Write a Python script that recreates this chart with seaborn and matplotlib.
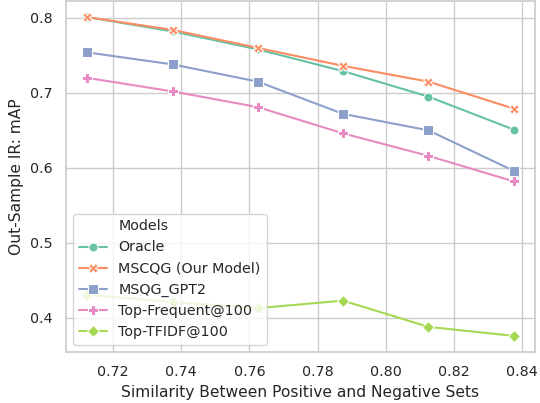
import matplotlib
matplotlib.use("Agg")
import matplotlib.pyplot as plt
import seaborn as sns
import pandas as pd
from matplotlib.lines import Line2D

similarity = [0.7125, 0.7375, 0.7625, 0.7875, 0.8125, 0.8375]
oracle = [0.801, 0.782, 0.758, 0.729, 0.695, 0.651]
mscqg = [0.801, 0.784, 0.760, 0.736, 0.715, 0.679]
msqg_gpt2 = [0.754, 0.738, 0.715, 0.672, 0.650, 0.596]
top_frequent = [0.720, 0.702, 0.681, 0.646, 0.616, 0.582]
top_tfidf = [0.431, 0.421, 0.413, 0.423, 0.388, 0.376]
models = ["Oracle", "MSCQG (Our Model)", "MSQG_GPT2", "Top-Frequent@100", "Top-TFIDF@100"]

rows = []
for name, vals in zip(models, [oracle, mscqg, msqg_gpt2, top_frequent, top_tfidf]):
    for x, y in zip(similarity, vals):
        rows.append({"sim": x, "map": y, "Models": name})
df = pd.DataFrame(rows)

sns.set_theme(style="whitegrid", font_scale=0.93)
plt.rcParams["font.family"] = ["DejaVu Sans"]

fig, ax = plt.subplots(figsize=(5.4, 4.03), dpi=100)
sns.lineplot(data=df, x="sim", y="map", hue="Models", style="Models",
             markers=["o", "X", "s", "P", "D"], dashes=False,
             palette="Set2", markersize=6.5, ax=ax)

handles, labels = ax.get_legend_handles_labels()
blank = Line2D([], [], linestyle="none", marker=None)
ax.legend([blank] + handles, ["Models"] + labels, loc="lower left")

ax.set_xlabel("Similarity Between Positive and Negative Sets")
ax.set_ylabel("Out-Sample IR: mAP")
fig.subplots_adjust(left=0.122, right=0.991, top=0.997, bottom=0.127)
plt.savefig("out.png", dpi=100)
